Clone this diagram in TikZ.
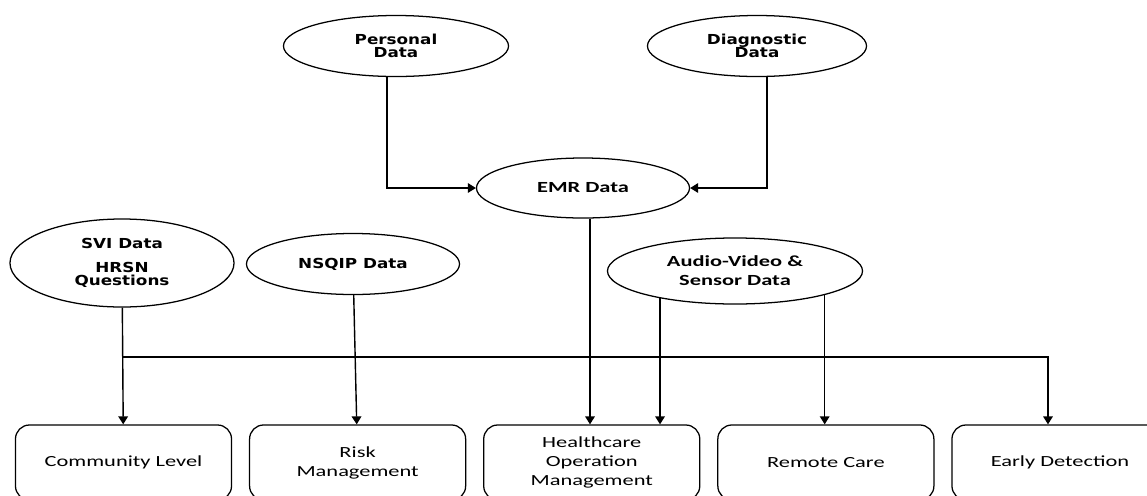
\documentclass[tikz,border=0pt]{standalone}
\usepackage{fontspec}
\usetikzlibrary{shapes.geometric, arrows.meta, positioning, calc}
\newfontfamily\ovalfont{DejaVu Sans}[FakeStretch=1.22]
\newfontfamily\calfont{Carlito}[FakeStretch=1.45]

\begin{document}
\begin{tikzpicture}[
    x=0.025cm, y=-0.025cm,
    every node/.style={align=center},
    src-oval/.style={ellipse, draw, line width=0.9pt, inner sep=0pt,
        font=\ovalfont\bfseries\fontsize{9.8}{9.4}\selectfont},
    emr-oval/.style={ellipse, draw, line width=0.9pt, inner sep=0pt,
        font=\calfont\bfseries\fontsize{11}{13.5}\selectfont},
    use-box/.style={rectangle, draw, rounded corners=3.5mm, line width=0.9pt,
        minimum width=5.4cm, minimum height=1.875cm, inner sep=2pt,
        font=\calfont\fontsize{11}{13.5}\selectfont},
    link-arrow/.style={-{Triangle[length=2mm, width=2.4mm]}, line width=1pt},
]
    \useasboundingbox (0,0) rectangle (1147,495);

    % ---- NODES: data sources ----
    \node[src-oval, minimum width=5.625cm, minimum height=1.525cm] (pers) at (396,46) {Personal\\Data};
    \node[src-oval, minimum width=5.475cm, minimum height=1.525cm] (diag) at (757,46) {Diagnostic\\Data};
    \node[emr-oval, minimum width=5.325cm, minimum height=1.5cm] (emr) at (583,188) {EMR Data};

    \node[src-oval, minimum width=5.6cm, minimum height=2.2cm] (svi) at (122,263) {SVI Data\\[7pt]HRSN\\Questions};
    \node[src-oval, minimum width=5.325cm, minimum height=1.525cm] (nsqip) at (353,264) {NSQIP Data};
    \node[emr-oval, minimum width=6.375cm, minimum height=1.65cm] (av) at (735,271) {Audio-Video \&\\Sensor Data};

    % ---- NODES: use cases ----
    \node[use-box] (comm) at (123.5,462.5) {Community Level};
    \node[use-box, right=0.42cm of comm] (risk) {Risk\\Management};
    \node[use-box, right=0.42cm of risk] (hcom) {Healthcare\\Operation\\Management};
    \node[use-box, right=0.42cm of hcom] (remote) {Remote Care};
    \node[use-box, right=0.42cm of remote] (early) {Early Detection};

    % ---- ARROWS: into EMR ----
    \draw[link-arrow] ([xshift=-0.225cm]pers.south) |- (emr.west);
    \draw[link-arrow] ([xshift=0.25cm]diag.south) |- (emr.east);

    % ---- ARROWS: sources to use cases ----
    \draw[link-arrow] (svi)   -- (comm);
    \draw[link-arrow] (nsqip) -- (risk);
    \draw[link-arrow] ([xshift=0.175cm]emr.south) -- ([xshift=0.175cm]emr.south |- hcom.north);
    \draw[link-arrow] (av.200) -- (av.200 |- hcom.north);
    \draw[link-arrow] (av.-15) -- (av.-15 |- remote.north);

    % branch from SVI line to early detection
    \coordinate (bus) at (122,357);
    \draw[link-arrow] (bus) -| ([xshift=-0.3cm]early.north);

\end{tikzpicture}
\end{document}
